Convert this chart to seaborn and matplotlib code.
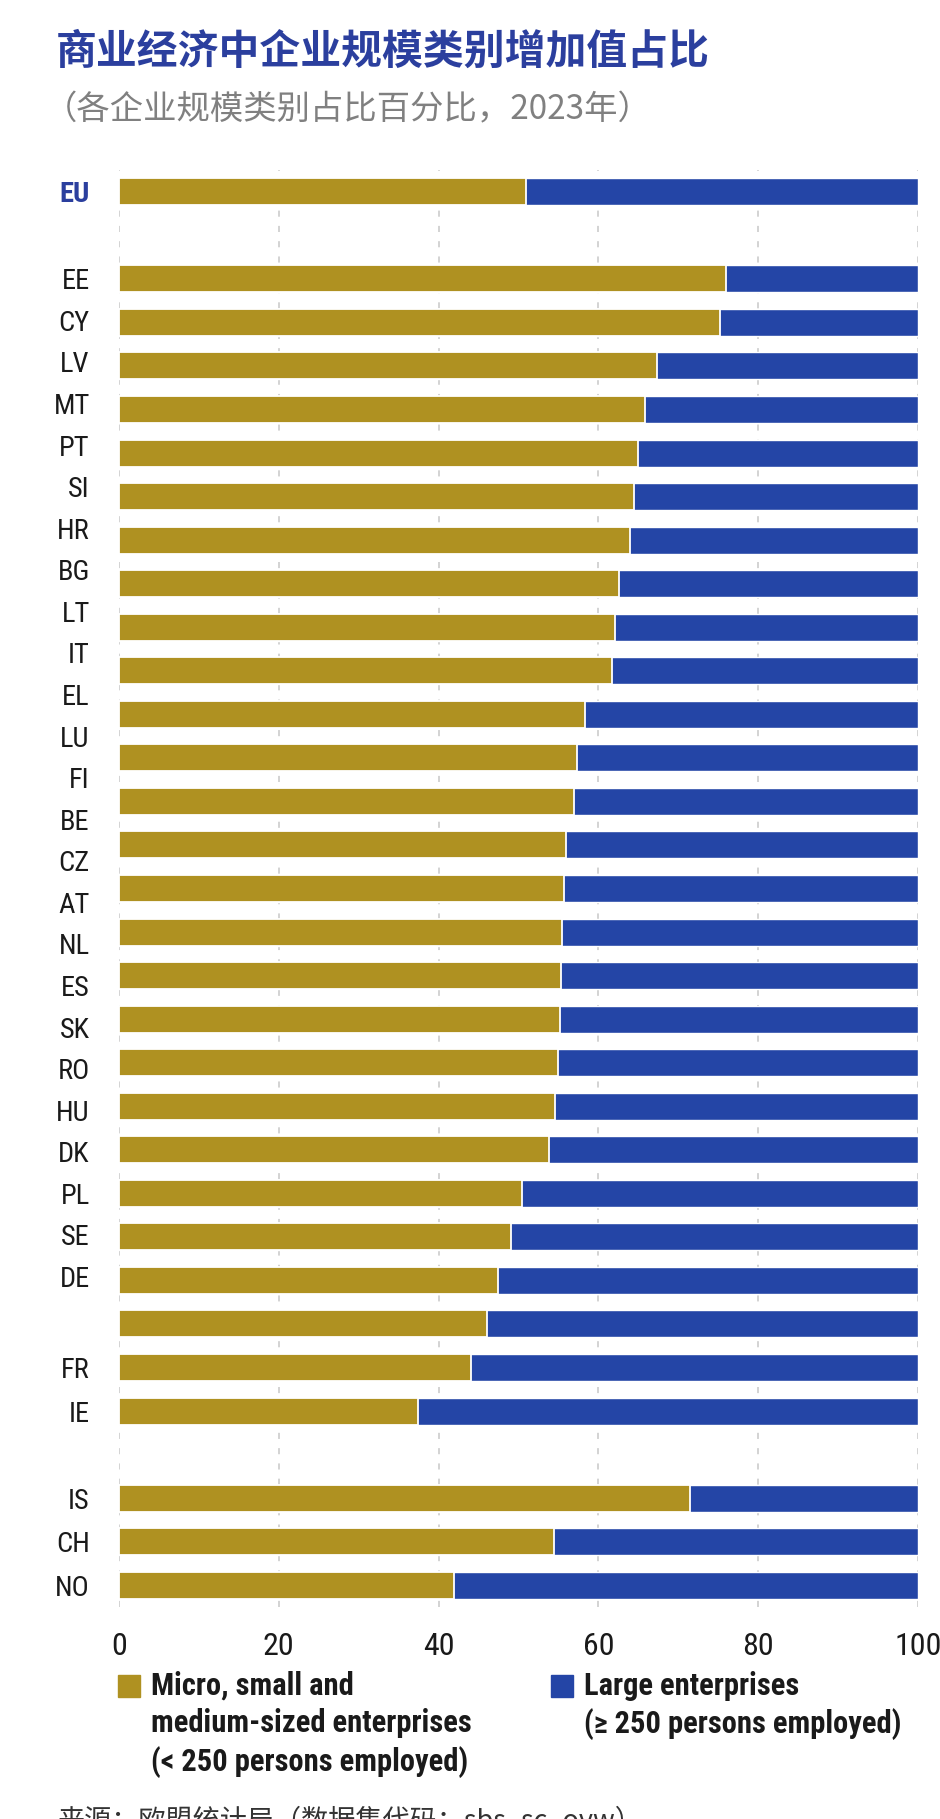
import matplotlib
matplotlib.use('Agg')
import matplotlib.pyplot as plt
from matplotlib.patches import Rectangle
import numpy as np
import pandas as pd
import seaborn as sns

sns.set_theme(style='white')
# 글꼴은 set_theme 뒤에 지정 (좁은 글꼴 우선)
NARROW = ['Roboto Condensed', 'Liberation Sans Narrow', 'Roboto', 'DejaVu Sans']
CJK = ['Noto Sans CJK SC', 'DejaVu Sans']
plt.rcParams['font.family'] = NARROW
plt.rcParams['axes.unicode_minus'] = False

GOLD = '#AF9121'
BLUE = '#2445A6'
TITLE_BLUE = '#2B3F9E'

# ---- data (share of value added, %, 2023) ----
eu_geo = ['EU']
eu_sme = [51.0]
eu_large = [49.0]

member_geo = ['EE', 'CY', 'LV', 'MT', 'PT', 'SI', 'HR', 'BG', 'LT', 'IT',
              'EL', 'LU', 'FI', 'BE', 'CZ', 'AT', 'NL', 'ES', 'SK', 'RO',
              'HU', 'DK', 'PL', 'SE', 'DE', 'FR', 'IE']
member_sme = [76.0, 75.2, 67.3, 65.8, 64.9, 64.4, 63.9, 62.6, 62.1, 61.7,
              58.3, 57.3, 57.0, 55.9, 55.7, 55.4, 55.3, 55.2, 55.0, 54.6,
              53.8, 50.4, 49.0, 47.4, 46.0, 44.0, 37.4]
member_large = [24.0, 24.8, 32.7, 34.2, 35.1, 35.6, 36.1, 37.4, 37.9, 38.3,
                41.7, 42.7, 43.0, 44.1, 44.3, 44.6, 44.7, 44.8, 45.0, 45.4,
                46.2, 49.6, 51.0, 52.6, 54.0, 56.0, 62.6]

efta_geo = ['IS', 'CH', 'NO']
efta_sme = [71.5, 54.5, 41.9]
efta_large = [28.5, 45.5, 58.1]

xticks = [0, 20, 40, 60, 80, 100]

df = pd.DataFrame({
    'geo': eu_geo + member_geo + efta_geo,
    'sme': eu_sme + member_sme + efta_sme,
    'large': eu_large + member_large + efta_large,
})
df['total'] = df['sme'] + df['large']

# 빈 줄(간격)을 넣은 순서
order = eu_geo + [' '] + member_geo + ['  '] + efta_geo

fig = plt.figure(figsize=(9.4, 18.19), dpi=100)
ax = fig.add_axes([119 / 940, 1 - 1607 / 1819, 799 / 940, 1437 / 1819])

# 누적 막대: 전체(파랑) 위에 중소기업(금색)
sns.barplot(data=df, x='total', y='geo', order=order, color=BLUE,
            saturation=1, width=0.62, errorbar=None, orient='h', ax=ax)
sns.barplot(data=df, x='sme', y='geo', order=order, color=GOLD,
            saturation=1, width=0.62, errorbar=None, orient='h',
            edgecolor='white', linewidth=1.3, ax=ax)

ax.set_xlim(0, 100)
ax.set_ylim(len(order) - 0.5, -0.5)
ax.set_xlabel('')
ax.set_ylabel('')
ax.set_xticks(xticks)
ax.set_xticklabels([str(t) for t in xticks])
ax.tick_params(axis='x', length=0, pad=18, labelsize=23, colors='#1a1a1a')

# y 라벨: 원본처럼 EE~DE 라벨 간격이 막대 간격보다 약간 좁음
row = {g: i for i, g in enumerate(order)}
drift = 0.9545
pos, labs = [row['EU']], ['EU']
for k, g in enumerate(member_geo[:25]):
    pos.append(row['EE'] + k * drift)
    labs.append(g)
for g in member_geo[25:] + efta_geo:
    pos.append(row[g])
    labs.append(g)
ax.set_yticks(pos)
ax.set_yticklabels(labs)
ax.tick_params(axis='y', length=0, pad=21, labelsize=20.5, colors='#1a1a1a')
for t in ax.get_yticklabels():
    if t.get_text() == 'EU':
        t.set_color(TITLE_BLUE)
        t.set_fontweight('bold')

ax.xaxis.grid(True, linestyle=(0, (4, 6)), color='#c8c8c8', linewidth=1.1)
ax.yaxis.grid(False)
ax.set_axisbelow(True)
for s in ax.spines.values():
    s.set_visible(False)

# 제목
fig.text(56 / 940, 1 - 52 / 1819, '商业经济中企业规模类别增加值占比',
         family=CJK, fontsize=29.4, fontweight='bold', color=TITLE_BLUE,
         va='center', ha='left')
fig.text(44 / 940, 1 - 110 / 1819, '（各企业规模类别占比百分比，2023年）',
         family=CJK, fontsize=24, fontweight='light', color='#808080',
         va='center', ha='left')

# 범례
H = 1819
leg = [(118, GOLD, 'Micro, small and\nmedium-sized enterprises\n(< 250 persons employed)'),
       (551, BLUE, 'Large enterprises\n(\u2265 250 persons employed)')]
for x0, col, txt in leg:
    fig.patches.append(Rectangle((x0 / 940, 1 - 1697 / H), 22 / 940, 22 / H,
                                 transform=fig.transFigure, color=col))
    fig.text((x0 + 33) / 940, 1 - 1671 / H, txt, fontsize=22, fontweight='bold',
             color='#1a1a1a', va='top', ha='left', linespacing=1.3)

# 출처 (원본처럼 아래가 잘림)
fig.text(57 / 940, 1 - 1808 / H, '来源：欧盟统计局（数据集代码：sbs_sc_ovw）',
         family=CJK, fontsize=19.5, color='#333333', va='top', ha='left')

fig.savefig('out.png', dpi=100)
